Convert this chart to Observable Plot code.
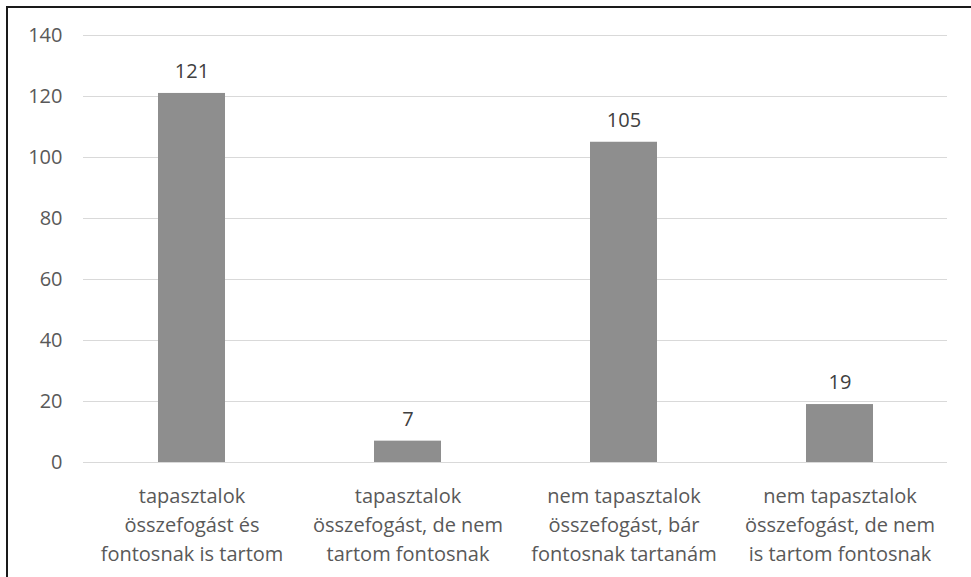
<!DOCTYPE html>
<html>
<head>
<meta charset="utf-8">
<script src="https://cdn.jsdelivr.net/npm/d3@7"></script>
<script src="https://cdn.jsdelivr.net/npm/@observablehq/plot@0.6"></script>
<style>
  html, body { margin: 0; padding: 0; background: #fff; }
  #wrap { position: relative; width: 971px; height: 577px; overflow: hidden; }
  #frame { position: absolute; left: 6px; top: 6px; width: 1000px; height: 600px;
           border-left: 2px solid #1a1a1a; border-top: 2px solid #1a1a1a; pointer-events: none; }
  #chart { position: absolute; left: 0; top: 0; }
</style>
</head>
<body>
<div id="wrap"><div id="chart"></div><div id="frame"></div></div>
<script>
const categories = [
  "tapasztalok összefogást és fontosnak is tartom",
  "tapasztalok összefogást, de nem tartom fontosnak",
  "nem tapasztalok összefogást, bár fontosnak tartanám",
  "nem tapasztalok összefogást, de nem is tartom fontosnak"
];
const categoryLabels = [
  "tapasztalok\nösszefogást és\nfontosnak is tartom",
  "tapasztalok\nösszefogást, de nem\ntartom fontosnak",
  "nem tapasztalok\nösszefogást, bár\nfontosnak tartanám",
  "nem tapasztalok\nösszefogást, de nem\nis tartom fontosnak"
];
const values = [121, 7, 105, 19];
const yTicks = [0, 20, 40, 60, 80, 100, 120, 140];

const data = categories.map((c, i) => ({category: c, value: values[i]}));
const labelOf = new Map(categories.map((c, i) => [c, categoryLabels[i]]));

const font = "'Open Sans', sans-serif";
const chart = Plot.plot({
  width: 971,
  height: 577,
  marginLeft: 83,
  marginRight: 24,
  marginTop: 35,
  marginBottom: 115,
  style: {fontFamily: font, fontSize: "20px", background: "transparent"},
  x: {domain: categories, paddingInner: 0.69, paddingOuter: 0.345, label: null},
  y: {domain: [0, 140], label: null},
  marks: [
    Plot.gridY(yTicks, {stroke: "#d9d9d9", strokeOpacity: 1, strokeWidth: 1}),
    Plot.axisY(yTicks, {tickSize: 0, tickPadding: 21, label: null, fill: "#595959", fontSize: 20}),
    Plot.axisX({tickSize: 0, tickPadding: 20, label: null, fill: "#595959", fontSize: 20,
                lineHeight: 1.45, tickFormat: d => labelOf.get(d), textOverflow: null, lineWidth: Infinity}),
    Plot.barY(data, {x: "category", y: "value", fill: "#8e8e8e"}),
    Plot.text(data, {x: "category", y: "value", text: d => String(d.value), dy: -22,
                     fill: "#404040", fontSize: 20})
  ]
});
document.getElementById("chart").appendChild(chart);
</script>
</body>
</html>
